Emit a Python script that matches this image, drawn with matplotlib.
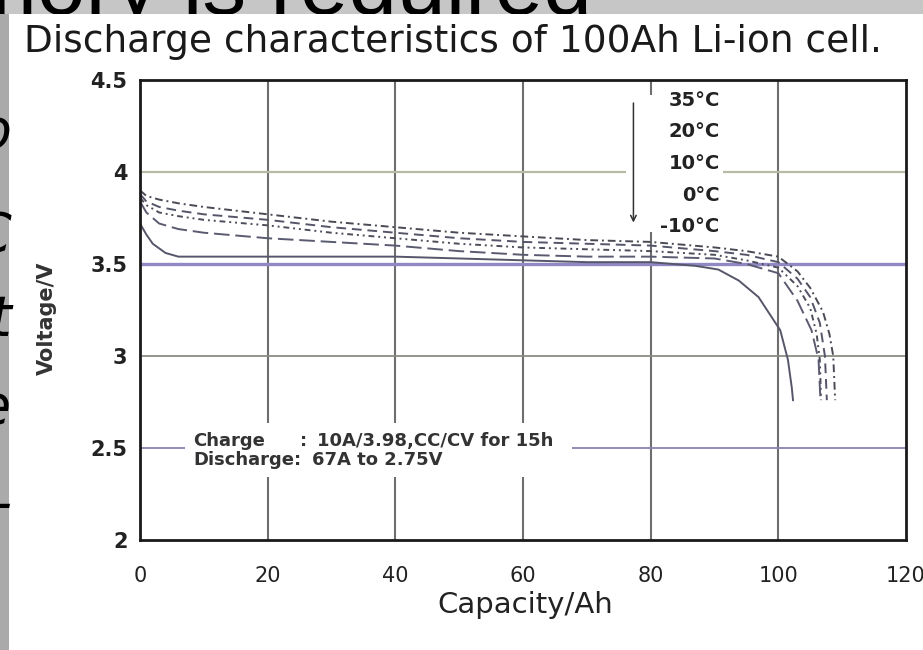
import matplotlib.pyplot as plt
from matplotlib.patches import Rectangle

W, H = 923, 650

# axis ticks
cap_ticks = [0, 20, 40, 60, 80, 100, 120]
volt_ticks = [2, 2.5, 3, 3.5, 4, 4.5]
volt_labels = ['2', '2.5', '3', '3.5', '4', '4.5']

# discharge curves (capacity Ah, voltage V)
temps = ['35°C', '20°C', '10°C', '0°C', '-10°C']
cap_35 = [0, 1, 3, 6, 10, 20, 30, 40, 50, 60, 70, 80, 90, 95, 100, 103, 105, 107, 108, 108.6, 108.9]
v_35 = [3.90, 3.87, 3.85, 3.83, 3.81, 3.77, 3.73, 3.70, 3.67, 3.65, 3.63, 3.62, 3.59, 3.57, 3.54, 3.46, 3.37, 3.24, 3.12, 3.00, 2.76]
cap_20 = [0, 1, 3, 6, 10, 20, 30, 40, 50, 60, 70, 80, 90, 95, 100, 103, 105, 106.5, 107.3, 107.6]
v_20 = [3.88, 3.84, 3.81, 3.79, 3.77, 3.74, 3.70, 3.67, 3.64, 3.62, 3.61, 3.60, 3.57, 3.55, 3.51, 3.42, 3.32, 3.18, 3.00, 2.76]
cap_10 = [0, 1, 3, 6, 10, 20, 30, 40, 50, 60, 70, 80, 90, 95, 100, 103, 105, 106, 106.5, 106.7]
v_10 = [3.86, 3.82, 3.78, 3.76, 3.74, 3.71, 3.67, 3.64, 3.61, 3.59, 3.58, 3.57, 3.55, 3.52, 3.48, 3.38, 3.26, 3.12, 2.98, 2.76]
cap_0 = [0, 1, 3, 6, 10, 20, 30, 40, 50, 60, 70, 80, 90, 95, 100, 103, 105.2, 106.3, 106.6]
v_0 = [3.84, 3.78, 3.72, 3.69, 3.67, 3.64, 3.62, 3.60, 3.57, 3.55, 3.54, 3.54, 3.53, 3.50, 3.45, 3.30, 3.14, 2.98, 2.76]
cap_m10 = [0, 1, 2, 4, 6, 10, 20, 30, 40, 50, 60, 70, 80, 87, 90.6, 93.8, 96.9, 100.3, 101.5, 102.1, 102.3]
v_m10 = [3.72, 3.66, 3.61, 3.56, 3.54, 3.54, 3.54, 3.54, 3.54, 3.53, 3.52, 3.51, 3.51, 3.49, 3.47, 3.41, 3.32, 3.14, 2.98, 2.83, 2.76]

curves = [(cap_35, v_35), (cap_20, v_20), (cap_10, v_10), (cap_0, v_0), (cap_m10, v_m10)]
styles = [(0, (4, 2, 1, 2)), (0, (5, 3)), (0, (3, 2, 1, 2, 1, 2)), (0, (8, 3)), '-']
colors = ['#4a4a55', '#55556a', '#4d4d5a', '#5a5a70', '#56566a']

fig = plt.figure(figsize=(W / 100, H / 100), dpi=100)
fig.patch.set_facecolor('white')

# slide background showing round the scanned picture
fig.patches.append(Rectangle((0, 0), 9 / W, 1, transform=fig.transFigure,
                             facecolor='#aaaaaa', edgecolor='none', zorder=0))
fig.patches.append(Rectangle((0, 1 - 14 / H), 1, 14 / H, transform=fig.transFigure,
                             facecolor='#c6c6c6', edgecolor='none', zorder=0))
fig.text(592 / W, 1 - 14 / H, 'mory is required', fontsize=63, family='Liberation Sans',
         va='baseline', ha='right', color='black', zorder=0.5)
fig.patches.append(Rectangle((9 / W, 0), 1 - 9 / W, 1 - 14 / H, transform=fig.transFigure,
                             facecolor='white', edgecolor='none', zorder=1))
for ch, yy in zip(['o', 'C', 't', 'e', '-'], [132, 237, 320, 408, 505]):
    fig.text(11 / W, 1 - yy / H, ch, fontsize=40, style='italic', family='DejaVu Sans',
             ha='right', va='center', color='black', zorder=1.5)

ax = fig.add_axes([140 / W, 1 - 540 / H, 766 / W, 460 / H])
ax.set_zorder(2)
ax.set_xlim(0, 120)
ax.set_ylim(2, 4.5)

# grid lines, drawn like the scan
for x in cap_ticks[1:-1]:
    ax.axvline(x, color='#6e6e6e', lw=1.5, zorder=1)
ax.axhline(4.0, color='#b7baa4', lw=1.6, zorder=1)
ax.axhline(3.5, color='#9088c2', lw=2.4, zorder=1)
ax.axhline(3.0, color='#8a8d80', lw=1.3, zorder=1)
ax.axhline(2.5, color='#8884b2', lw=1.3, zorder=1)

# white areas behind the labels
ax.add_patch(Rectangle((76.1, 3.674), 15.3, 0.744, facecolor='white', edgecolor='none', zorder=1.5))
ax.add_patch(Rectangle((7.05, 2.342), 60.6, 0.294, facecolor='white', edgecolor='none', zorder=1.5))

for (cx, cy), ls, c in zip(curves, styles, colors):
    ax.plot(cx, cy, ls=ls, color=c, lw=1.4, zorder=2)

# temperature labels and arrow
for i, t in enumerate(temps):
    ax.text(90.8, 4.39 - i * 0.172, t, fontsize=14, fontweight='bold', family='DejaVu Sans',
            ha='right', va='center', color='#222222', zorder=3)
ax.annotate('', xy=(77.3, 3.71), xytext=(77.3, 4.39),
            arrowprops=dict(arrowstyle='->', color='#333333', lw=1.1), zorder=3)

# test conditions
note_kw = dict(fontsize=13, fontweight='bold', family='DejaVu Sans', color='#333333', va='center', zorder=3)
ax.text(8.3, 2.54, 'Charge', **note_kw)
ax.text(25.0, 2.54, ':', **note_kw)
ax.text(27.7, 2.54, '10A/3.98,CC/CV for 15h', **note_kw)
ax.text(8.3, 2.435, 'Discharge:', **note_kw)
ax.text(27.0, 2.435, '67A to 2.75V', **note_kw)

ax.set_xticks(cap_ticks)
ax.set_xticklabels([str(v) for v in cap_ticks], fontsize=15, family='DejaVu Sans', color='#222222')
ax.set_yticks(volt_ticks)
ax.set_yticklabels(volt_labels, fontsize=15, fontweight='bold', family='DejaVu Sans', color='#222222')
ax.tick_params(axis='x', length=0, pad=19)
ax.tick_params(axis='y', length=0, pad=9)
for s in ax.spines.values():
    s.set_linewidth(2)
    s.set_color('#1a1a1a')

fig.text(525 / W, 1 - 605 / H, 'Capacity/Ah', fontsize=21, family='DejaVu Sans',
         color='#222222', ha='center', va='center', zorder=3)
fig.text(47 / W, 1 - 318 / H, 'Voltage/V', rotation=90, fontsize=15, fontweight='bold',
         family='DejaVu Sans', color='#333333', ha='center', va='center', zorder=3)
fig.text(24 / W, 1 - 52 / H, 'Discharge characteristics of 100Ah Li-ion cell.',
         fontsize=27, family='DejaVu Sans', color='#1a1a1a', ha='left', va='baseline', zorder=3)

fig.savefig('out.png', dpi=100)
